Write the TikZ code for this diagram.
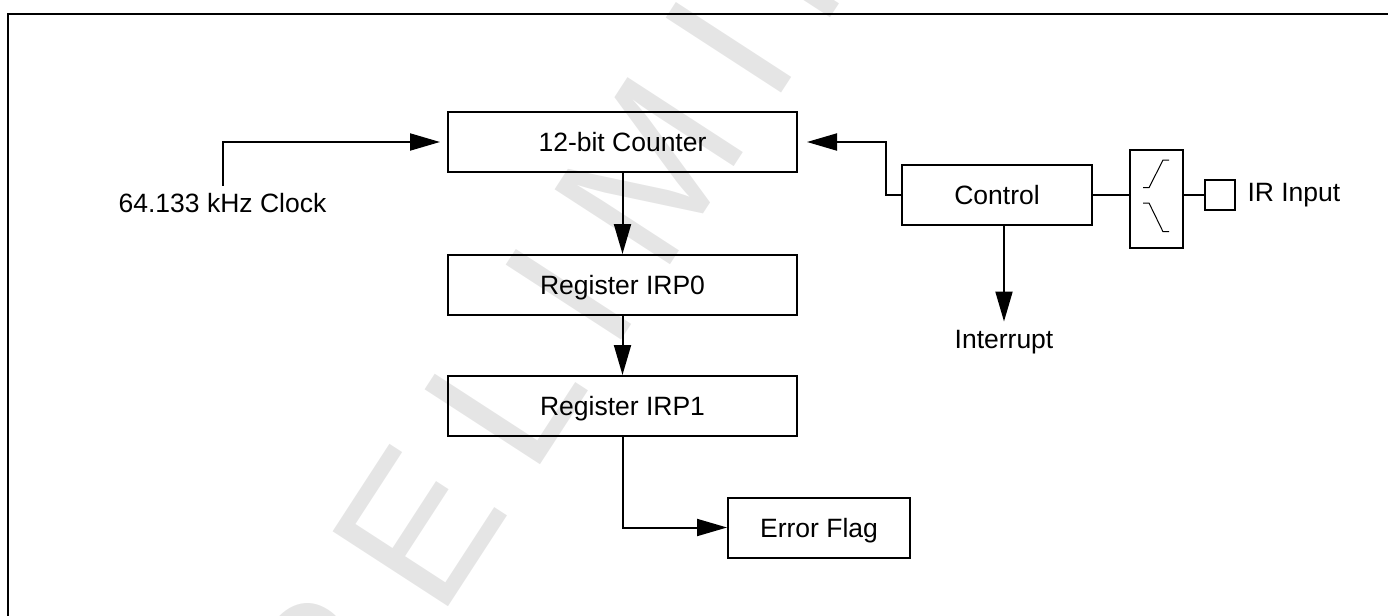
\documentclass[tikz,border=0pt]{standalone}
\usepackage{fontspec}
\setmainfont{Liberation Sans}
\newfontfamily\wmfont[LetterSpace=18]{Liberation Sans}
\usepackage{xcolor}
\usepackage{tikz}
\usetikzlibrary{arrows.meta,positioning}

\definecolor{wmgray}{gray}{0.9}
\newcommand{\lblfont}{\fontsize{13.25pt}{15pt}\selectfont}

\begin{document}
\begin{tikzpicture}[
    x=0.5pt, y=-0.5pt, line width=1pt,
    block/.style={draw, minimum width=174.5pt, minimum height=30pt, inner sep=0pt,
                  font=\lblfont, text height=9.5pt, text depth=0pt},
    sig/.style={font=\lblfont, text height=9.5pt, text depth=0pt, inner sep=3.5pt},
    arrow/.style={-{Triangle[length=15pt, width=8.5pt]}},
    wmark/.style={font=\wmfont\fontsize{100pt}{100pt}\selectfont, text=wmgray, inner sep=0pt},
    node distance=40.5pt
]
\useasboundingbox (0,0) rectangle (1388,616);
\begin{scope}
\clip (0,0) rectangle (1388,616);
\node[wmark, rotate=57, anchor=base west] (wm) at (248,915) {PRELIMINARY};
\end{scope}
\draw (1388,14) -| (7.5,616);

\node[block] (ctr) at (622.5,142) {12-bit Counter};
\node[block, below=of ctr] (irp0) {Register IRP0};
\node[block, below=29.5pt of irp0] (irp1) {Register IRP1};
\node[block, minimum width=91pt] (err) at (819,527.5) {Error Flag};
\node[block, minimum width=95pt] (ctrl) at (997,194.5) {Control};
\node[draw, minimum width=26.5pt, minimum height=49pt, inner sep=0pt] (trig) at (1156.5,199) {};
\node[draw, minimum size=15pt, inner sep=0pt] (pin) at (1220,195) {};
\node[sig] (clk) at (222.5,203) {64.133 kHz Clock};
\node[sig] (intr) at (1004,339) {Interrupt};
\node[sig, anchor=base west, inner sep=0pt] (irin) at (1246.5,201) {IR Input};

\draw[arrow, shorten >=3.5pt] (clk.north) |- (ctr.west);
\draw[arrow, shorten >=4.5pt] (ctrl.west) -- ++(-15,0) |- (ctr.east);
\draw[arrow] (ctr) -- (irp0);
\draw[arrow] (irp0) -- (irp1);
\draw[arrow] (irp1.south) |- (err.west);
\draw[arrow] (ctrl.south -| intr.north) -- (intr.north);
\draw (ctrl.east) -- (ctrl.east -| trig.west);
\draw (pin.west -| trig.east) -- (pin.west);
\draw[line width=0.5pt] ([shift={(-13.5,-11.3)}]trig.center) -- ++(6,0) -- ++(14,-27.7) -- ++(6,0);
\draw[line width=0.5pt] ([shift={(-13.5,4)}]trig.center) -- ++(6,0) -- ++(14,28.7) -- ++(6,0);
\end{tikzpicture}
\end{document}
